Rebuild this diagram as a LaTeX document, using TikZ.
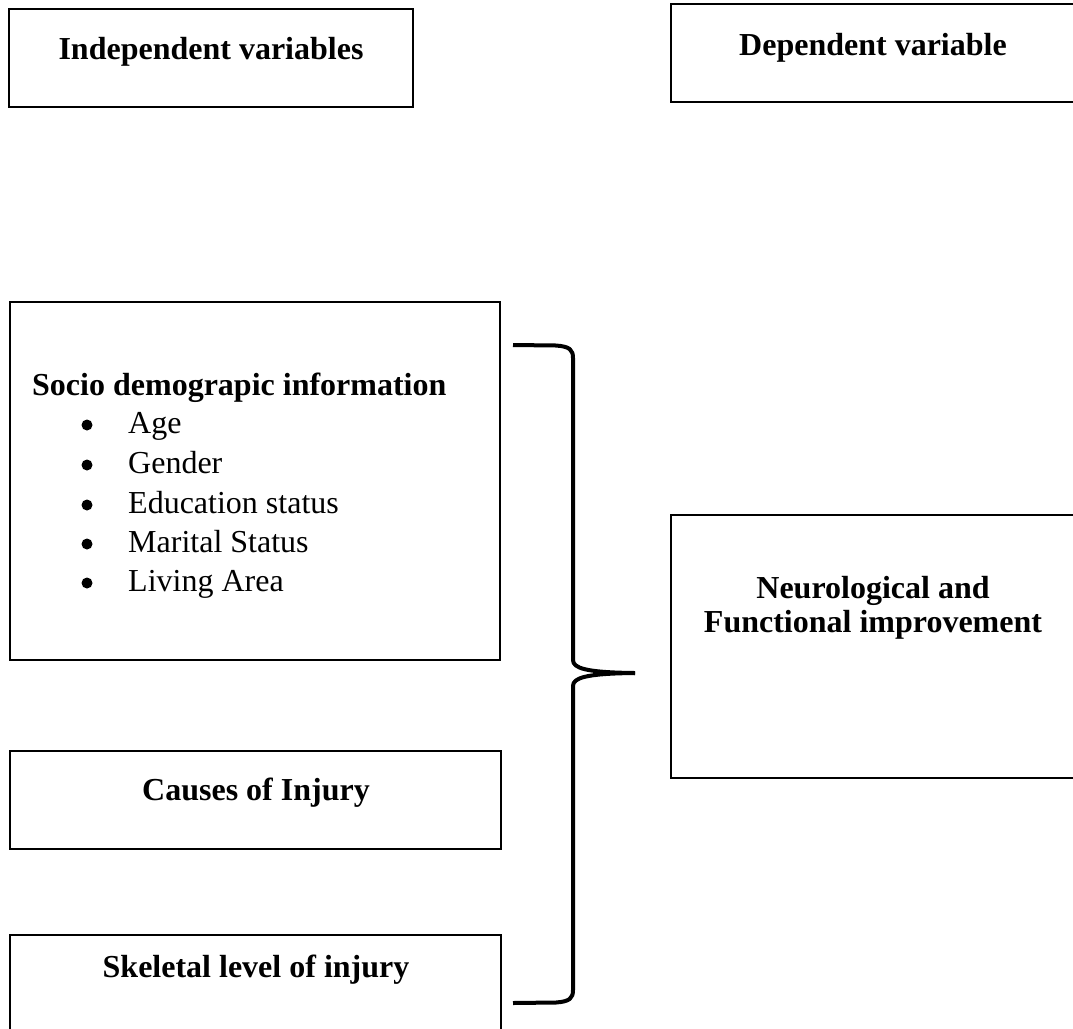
\documentclass[tikz,border=0pt]{standalone}
\usepackage{fontspec}
\setmainfont{Liberation Serif}
\begin{document}
\begin{tikzpicture}[x=1pt,y=-1pt,
  box/.style={draw, line width=2pt, inner sep=0pt},
  txt/.style={anchor=base, inner sep=0pt, font=\fontsize{32}{38}\selectfont},
  btxt/.style={anchor=base, inner sep=0pt, font=\fontsize{32}{38}\selectfont\bfseries},
  bulletdot/.style={circle, fill=black, inner sep=0pt, minimum size=11pt},
  bracestyle/.style={line width=4pt, line cap=butt, line join=round}]
\useasboundingbox (0,0) rectangle (1073,1028);

% boxes
\node[box, minimum width=404pt, minimum height=98pt] (indep) at (211,58) {};
\node[box, minimum width=410pt, minimum height=98pt] (dep) at (876,53) {};
\node[box, minimum width=490pt, minimum height=358pt] (socio) at (255,481) {};
\node[box, minimum width=491pt, minimum height=98pt] (causes) at (255.5,800) {};
\node[box, minimum width=491pt, minimum height=110pt] (skel) at (255.5,990) {};
\node[box, minimum width=410pt, minimum height=263pt] (neuro) at (876,646.5) {};

% texts
\node[btxt] (indeplbl) at (211,59) {Independent variables};
\node[btxt] (deplbl) at (873,55) {Dependent variable};
\node[btxt, anchor=base west] (sociolbl) at (32,395) {Socio demograpic information};
\foreach \t/\y [count=\i] in {Age/433, Gender/473, Education status/513, Marital Status/552, Living Area/591}{
  \node[bulletdot] (bul\i) at (87,\y-8) {};
  \node[txt, anchor=base west] (item\i) at (128,\y) {\t};
}
\node[btxt] (causeslbl) at (256,800) {Causes of Injury};
\node[btxt] (skellbl) at (256,977) {Skeletal level of injury};
\node[btxt] (neurolbl1) at (873,598) {Neurological and};
\node[btxt] (neurolbl2) at (873,632) {Functional improvement};

% brace
\coordinate (btop) at (513,345);
\coordinate (btip) at (635,673);
\coordinate (bbot) at (513,1003);
\draw[bracestyle] (btop) -- (556,345.5) .. controls (570,346.5) and (573,350) .. (573,358)
  -- (573,660) .. controls (573,668) and (585,672.5) .. (btip);
\draw[bracestyle] (btip) .. controls (585,673.5) and (573,678) .. (573,686)
  -- (573,990) .. controls (573,998) and (570,1001.5) .. (556,1002.5) -- (bbot);
\end{tikzpicture}
\end{document}
